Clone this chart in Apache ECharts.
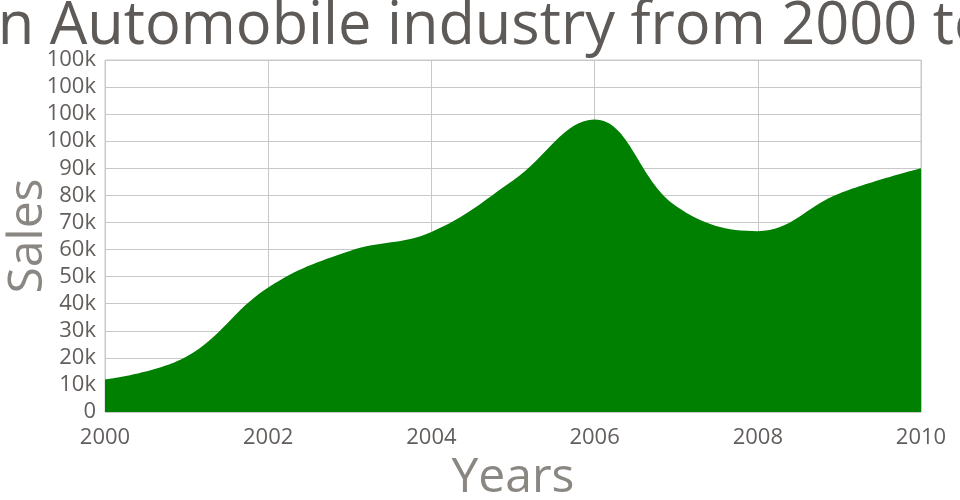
<!DOCTYPE html>
<html><head><meta charset="utf-8">
<script src="https://cdn.jsdelivr.net/npm/echarts@6/dist/echarts.min.js"></script>
<style>html,body{margin:0;padding:0;background:#fff}#c{width:960px;height:500px}</style>
</head><body><div id="c"></div>
<script>
const years = [2000, 2001, 2002, 2003, 2004, 2005, 2006, 2007, 2008, 2009, 2010];
const sales = [12000, 20500, 46000, 59500, 66500, 85500, 108000, 76000, 66800, 80700, 90000];
const yTickLabels = ["0","10k","20k","30k","40k","50k","60k","70k","80k","90k","100k","100k","100k","100k"];
const titleText = "Sales in Automobile industry from 2000 to 2010";

const chart = echarts.init(document.getElementById('c'), null, {renderer:'canvas'});
chart.setOption({
  animation: false,
  title: {
    text: titleText, left: 478, top: -8, textAlign: 'center',
    textStyle: {fontFamily: 'Open Sans', fontSize: 59.5, fontWeight: 'normal', color: '#5e5a58'}
  },
  grid: {left: 105, right: 39, top: 60, bottom: 88, outerBoundsMode: 'none', containLabel: false,
         show: true, borderColor: '#c8c8c8', borderWidth: 1},
  xAxis: {
    type: 'value', min: 2000, max: 2010, interval: 2,
    name: 'Years', nameLocation: 'middle', nameGap: 42,
    nameTextStyle: {fontFamily: 'Open Sans', fontSize: 48, color: '#8a8682'},
    axisLine: {show: false}, axisTick: {show: false},
    axisLabel: {fontFamily: 'Open Sans', fontSize: 22, color: '#625e5c', margin: 15, formatter: v => String(v)},
    splitLine: {show: true, lineStyle: {color: '#c8c8c8', width: 1}}
  },
  yAxis: {
    type: 'value', min: 0, max: 130000, interval: 10000,
    name: 'Sales', nameLocation: 'middle', nameGap: 53, nameMoveOverlap: false,
    nameTextStyle: {fontFamily: 'Open Sans', fontSize: 48, color: '#8a8682'},
    axisLine: {show: false}, axisTick: {show: false},
    axisLabel: {fontFamily: 'Open Sans', fontSize: 22, color: '#625e5c', margin: 9,
      formatter: v => yTickLabels[Math.round(v / 10000)]},
    splitLine: {show: true, lineStyle: {color: '#c8c8c8', width: 1}}
  },
  series: [{
    type: 'line', smooth: 0.4, symbol: 'none',
    data: years.map((y, i) => [y, sales[i]]),
    lineStyle: {width: 0, color: '#008000'},
    itemStyle: {color: '#008000'},
    areaStyle: {color: '#008000', opacity: 1}
  }]
});
</script></body></html>
